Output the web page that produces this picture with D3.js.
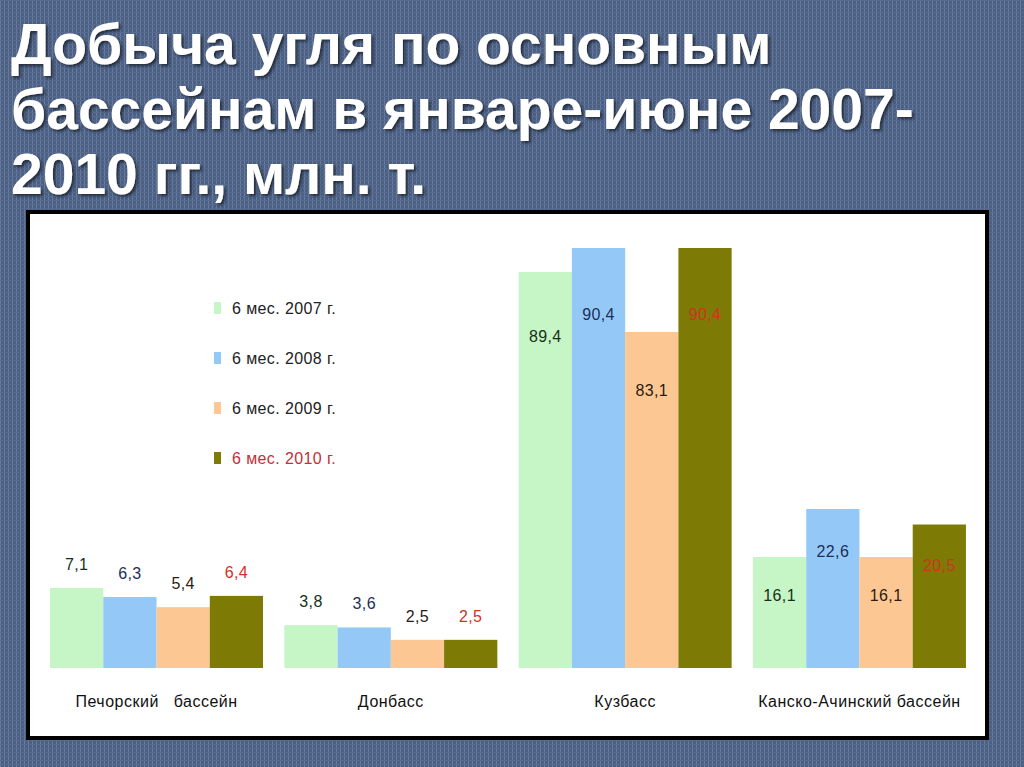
<!DOCTYPE html>
<html><head><meta charset="utf-8">
<script src="https://cdn.jsdelivr.net/npm/d3@7"></script>
<style>
html,body{margin:0;padding:0;background:#50648a;}
svg{display:block;}
</style></head>
<body>
<script>
// ---- data ----
const titleLines = ["Добыча угля по основным", "бассейнам в январе-июне 2007-", "2010 гг., млн. т."];
const basins = ["Печорский   бассейн", "Донбасс", "Кузбасс", "Канско-Ачинский бассейн"];
const series = ["6 мес. 2007 г.", "6 мес. 2008 г.", "6 мес. 2009 г.", "6 мес. 2010 г."];
const v2007 = [7.1, 3.8, 89.4, 16.1];
const v2008 = [6.3, 3.6, 90.4, 22.6];
const v2009 = [5.4, 2.5, 83.1, 16.1];
const v2010 = [6.4, 2.5, 90.4, 20.5];
const valueLabels = [
  ["7,1", "3,8", "89,4", "16,1"],
  ["6,3", "3,6", "90,4", "22,6"],
  ["5,4", "2,5", "83,1", "16,1"],
  ["6,4", "2,5", "90,4", "20,5"]
];
const values = [v2007, v2008, v2009, v2010];

// ---- styles ----
const barColors = ["#c6f5c6", "#94c9f7", "#fcc792", "#7d7b06"];
const labelColors = ["#17301a", "#1d2f58", "#2a1c12", "#d0331f"];
const legendTextColors = ["#222", "#222", "#222", "#c2303a"];

const W = 1024, H = 767;
const svg = d3.select("body").append("svg").attr("width", W).attr("height", H);
const defs = svg.append("defs");

// background texture
const pat = defs.append("pattern").attr("id", "bg").attr("width", 4).attr("height", 4)
  .attr("patternUnits", "userSpaceOnUse");
pat.append("rect").attr("width", 4).attr("height", 4).attr("fill", "#4c6084");
pat.append("rect").attr("x", 0).attr("width", 1).attr("height", 4).attr("fill", "#687ca0");
pat.append("rect").attr("y", 0).attr("width", 4).attr("height", 1).attr("fill", "#586b8e");
svg.append("rect").attr("width", W).attr("height", H).attr("fill", "url(#bg)");

const sh = defs.append("filter").attr("id", "shadow").attr("x", "-5%").attr("y", "-20%").attr("width", "110%").attr("height", "140%");
sh.append("feDropShadow").attr("dx", 2).attr("dy", 2).attr("stdDeviation", 1.5)
  .attr("flood-color", "#141b2a").attr("flood-opacity", 0.85);

// title
const title = svg.append("g").attr("filter", "url(#shadow)");
titleLines.forEach((t, i) => {
  title.append("text").attr("x", 11).attr("y", 64 + i * 65)
    .attr("fill", "#ffffff")
    .attr("font-family", "Liberation Sans, Arial, sans-serif")
    .attr("font-weight", "bold").attr("font-size", 57)
    .text(t);
});

// chart panel
svg.append("rect").attr("x", 28).attr("y", 212).attr("width", 959).attr("height", 526)
  .attr("fill", "#ffffff").attr("stroke", "#000000").attr("stroke-width", 4);

// scales
const x0 = d3.scaleBand().domain(basins).range([39.5, 976.5]).paddingInner(0.091).paddingOuter(0.045);
const x1 = d3.scaleBand().domain(series).range([0, x0.bandwidth()]).padding(0);
// The source chart uses a broken (non-linear) value axis: piecewise-linear scale
const baseY = 668;
const y = d3.scaleLinear()
  .domain([0, 7.1, 16.1, 22.6, 83.1, 89.4, 90.4])
  .range([baseY, baseY - 80, baseY - 111, baseY - 159, baseY - 336, baseY - 396, baseY - 420]);

const font = "Liberation Sans, Arial, sans-serif";

// bars
basins.forEach((b, bi) => {
  const g = svg.append("g").attr("transform", `translate(${x0(b)},0)`);
  series.forEach((s, si) => {
    const v = values[si][bi];
    const top = y(v);
    const h = baseY - top;
    g.append("rect").attr("x", x1(s)).attr("y", top)
      .attr("width", x1.bandwidth()).attr("height", h)
      .attr("fill", barColors[si]);
    const cx = x1(s) + x1.bandwidth() / 2;
    const cy = h < 100 ? top - 24 : top + 28 + 0.09 * h;
    g.append("text").attr("x", cx).attr("y", cy + 6)
      .attr("text-anchor", "middle")
      .attr("font-family", font).attr("font-size", 16).attr("letter-spacing", 0.4)
      .attr("fill", labelColors[si])
      .text(valueLabels[si][bi]);
  });
});

// category axis labels
svg.append("g").selectAll("text").data(basins).join("text")
  .attr("x", d => x0(d) + x0.bandwidth() / 2)
  .attr("y", 707)
  .attr("text-anchor", "middle")
  .attr("font-family", font).attr("font-size", 16).attr("letter-spacing", 0.5)
  .attr("fill", "#111")
  .style("white-space", "pre")
  .attr("xml:space", "preserve")
  .text(d => d);

// legend
const lg = svg.append("g").attr("transform", "translate(214,308)");
series.forEach((s, i) => {
  const r = lg.append("g").attr("transform", `translate(0,${i * 50})`);
  r.append("rect").attr("x", 0).attr("y", -6).attr("width", 7).attr("height", 12).attr("fill", barColors[i]);
  r.append("text").attr("x", 18).attr("y", 6)
    .attr("font-family", font).attr("font-size", 16).attr("letter-spacing", 0.4)
    .attr("fill", legendTextColors[i]).text(s);
});
</script>
</body></html>
